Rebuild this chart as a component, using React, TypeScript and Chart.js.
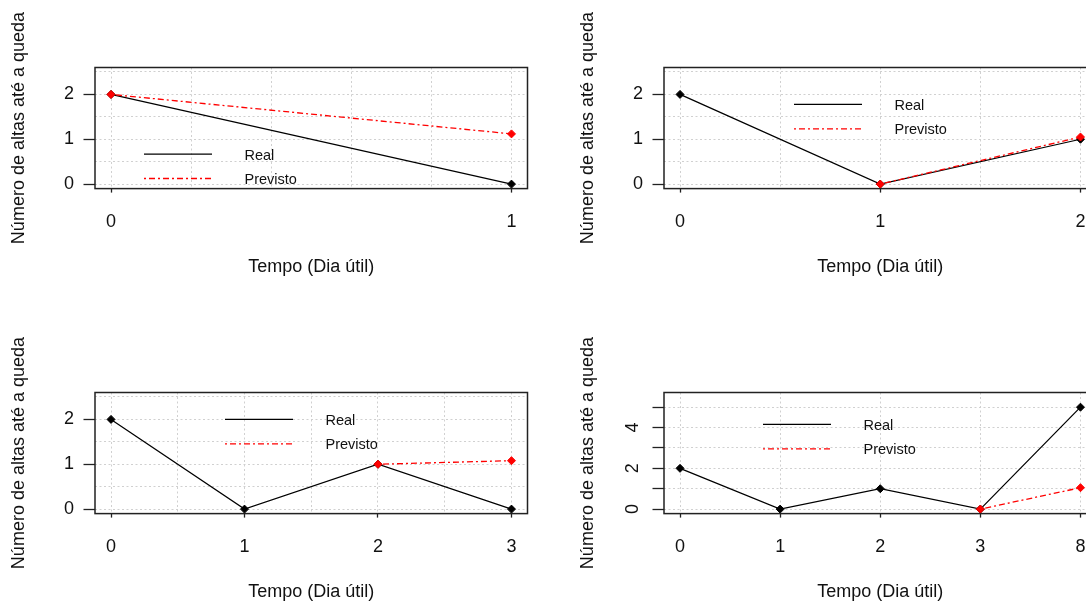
import React, { useEffect, useRef } from 'react';
import { Chart, registerables } from 'chart.js';

Chart.register(...registerables);

// ---------- text ----------
const yTitle = 'Número de altas até a queda';
const xTitle = 'Tempo (Dia útil)';
const seriesRealName = 'Real';
const seriesPrevName = 'Previsto';

// ---------- data ----------
const p1Labels = ['0', '1'];
const p1Real = [2, 0];
const p1Prev: (number | null)[] = [2, 1.12];

const p2Labels = ['0', '1', '2'];
const p2Real = [2, 0, 1];
const p2Prev: (number | null)[] = [null, 0, 1.05];

const p3Labels = ['0', '1', '2', '3'];
const p3Real = [2, 0, 1, 0];
const p3Prev: (number | null)[] = [null, null, 1, 1.08];

const p4Labels = ['0', '1', '2', '3', '8'];
const p4Real = [2, 0, 1, 0, 5];
const p4Prev: (number | null)[] = [null, null, null, 0, 1.05];

// ---------- grid / tick positions ----------
const p1XGrid = [0, 0.2, 0.4, 0.6, 0.8, 1];
const p2XGrid = [0, 0.5, 1, 1.5, 2];
const p3XGrid = [0, 0.5, 1, 1.5, 2, 2.5, 3];
const p4XGrid = [0, 1, 2, 3, 4];
const ySmallGrid = [0, 0.5, 1, 1.5, 2, 2.5];
const ySmallTickMarks = [0, 1, 2];
const ySmallLabels = [0, 1, 2];
const yLargeGrid = [0, 1, 2, 3, 4, 5];
const yLargeTickMarks = [0, 1, 2, 3, 4, 5];
const yLargeLabels = [0, 2, 4];

const FONT = '"Liberation Sans", Arial, sans-serif';
const TEXT = '#111111';
const GRID = '#d0d0d0';
const CLEAR = 'rgba(0,0,0,0)';

const CW = 569;
const CH = 300;
const AREA_LEFT = 95;
const AREA_RIGHT = 527.5;
const AREA_TOP = 67.5;
const AREA_BOTTOM = 188.6;

const boxPlugin = {
  id: 'rbox',
  beforeDatasetsDraw(chart: any) {
    const { ctx, chartArea: a } = chart;
    ctx.save();
    ctx.strokeStyle = '#222222';
    ctx.lineWidth = 1.5;
    ctx.strokeRect(a.left, a.top, a.right - a.left, a.bottom - a.top);
    ctx.restore();
  },
};

const legendPlugin = {
  id: 'rlegend',
  afterDraw(chart: any, _args: any, opts: any) {
    if (!opts || opts.dx == null) return;
    const { ctx, chartArea: a } = chart;
    const x0 = a.left + opts.dx;
    chart.data.datasets.forEach((ds: any, i: number) => {
      const y = a.top + opts.dy + i * opts.gap;
      ctx.save();
      ctx.strokeStyle = ds.borderColor;
      ctx.lineWidth = ds.borderWidth;
      ctx.setLineDash(ds.borderDash || []);
      ctx.beginPath();
      ctx.moveTo(x0, y);
      ctx.lineTo(x0 + opts.lineLen, y);
      ctx.stroke();
      ctx.setLineDash([]);
      ctx.fillStyle = TEXT;
      ctx.font = `14.5px ${FONT}`;
      ctx.textAlign = 'left';
      ctx.textBaseline = 'middle';
      ctx.fillText(ds.label, x0 + opts.textDx, y + 1.5);
      ctx.restore();
    });
  },
};

type PanelCfg = {
  left: number;
  top: number;
  labels: string[];
  real: number[];
  prev: (number | null)[];
  xMin: number;
  xMax: number;
  xGrid: number[];
  yMin: number;
  yMax: number;
  yGrid: number[];
  yTickMarks: number[];
  yLabels: number[];
  rotateY: boolean;
  legend: { dx: number; dy: number };
};

const panels: PanelCfg[] = [
  {
    left: 0, top: 0, labels: p1Labels, real: p1Real, prev: p1Prev,
    xMin: -0.04, xMax: 1.04, xGrid: p1XGrid,
    yMin: -0.1, yMax: 2.6, yGrid: ySmallGrid, yTickMarks: ySmallTickMarks, yLabels: ySmallLabels,
    rotateY: false, legend: { dx: 49, dy: 86.5 },
  },
  {
    left: 569, top: 0, labels: p2Labels, real: p2Real, prev: p2Prev,
    xMin: -0.08, xMax: 2.08, xGrid: p2XGrid,
    yMin: -0.1, yMax: 2.6, yGrid: ySmallGrid, yTickMarks: ySmallTickMarks, yLabels: ySmallLabels,
    rotateY: false, legend: { dx: 130, dy: 36.8 },
  },
  {
    left: 0, top: 325, labels: p3Labels, real: p3Real, prev: p3Prev,
    xMin: -0.12, xMax: 3.12, xGrid: p3XGrid,
    yMin: -0.1, yMax: 2.6, yGrid: ySmallGrid, yTickMarks: ySmallTickMarks, yLabels: ySmallLabels,
    rotateY: false, legend: { dx: 130, dy: 26.8 },
  },
  {
    left: 569, top: 325, labels: p4Labels, real: p4Real, prev: p4Prev,
    xMin: -0.16, xMax: 4.16, xGrid: p4XGrid,
    yMin: -0.22, yMax: 5.72, yGrid: yLargeGrid, yTickMarks: yLargeTickMarks, yLabels: yLargeLabels,
    rotateY: true, legend: { dx: 99, dy: 31.8 },
  },
];

function toPoints(values: (number | null)[]) {
  const pts: { x: number; y: number }[] = [];
  values.forEach((v, i) => {
    if (v !== null && v !== undefined) pts.push({ x: i, y: v });
  });
  return pts;
}

function Panel({ cfg }: { cfg: PanelCfg }) {
  const ref = useRef<HTMLCanvasElement | null>(null);
  useEffect(() => {
    if (!ref.current) return;
    const tickFont = { family: FONT, size: 18, lineHeight: 1.2 };
    const chart = new Chart(ref.current, {
      type: 'line',
      data: {
        datasets: [
          {
            label: seriesRealName,
            data: toPoints(cfg.real),
            borderColor: '#000000',
            backgroundColor: '#000000',
            borderWidth: 1.25,
            pointStyle: 'rectRot',
            pointRadius: 4,
            pointBorderWidth: 1,
            pointBackgroundColor: '#000000',
            pointBorderColor: '#000000',
            tension: 0,
            fill: false,
            order: 1,
          },
          {
            label: seriesPrevName,
            data: toPoints(cfg.prev),
            borderColor: '#ff0000',
            backgroundColor: '#ff0000',
            borderWidth: 1.3,
            borderDash: [2, 3, 6, 3],
            pointStyle: 'rectRot',
            pointRadius: 4,
            pointBorderWidth: 1,
            pointBackgroundColor: '#ff0000',
            pointBorderColor: '#ff0000',
            tension: 0,
            fill: false,
            order: 0,
          },
        ],
      },
      options: {
        responsive: false,
        animation: false,
        events: [],
        devicePixelRatio: 1,
        layout: {
          autoPadding: false,
          padding: { left: 0, top: AREA_TOP, right: CW - AREA_RIGHT, bottom: 0 },
        },
        plugins: {
          legend: { display: false },
          tooltip: { enabled: false },
          rlegend: { dx: cfg.legend.dx, dy: cfg.legend.dy, gap: 24.5, lineLen: 68, textDx: 100.5 },
        } as any,
        scales: {
          x: {
            type: 'linear',
            position: 'bottom',
            min: cfg.xMin,
            max: cfg.xMax,
            afterBuildTicks: (s: any) => {
              s.ticks = cfg.xGrid.map((v) => ({ value: v }));
            },
            afterFit: (s: any) => {
              s.height = CH - AREA_BOTTOM;
            },
            grid: {
              color: GRID,
              lineWidth: 1,
              drawTicks: true,
              tickLength: 4,
              tickWidth: 1.3,
              tickColor: (c: any) =>
                c.tick && Number.isInteger(c.tick.value) ? '#222222' : CLEAR,
            },
            border: { display: false, dash: [2, 2.5] },
            ticks: {
              autoSkip: false,
              minRotation: 0,
              maxRotation: 0,
              padding: 18.5,
              color: TEXT,
              font: tickFont,
              callback: (v: any) => (Number.isInteger(v) ? cfg.labels[v] : ''),
            },
            title: {
              display: true,
              text: xTitle,
              color: TEXT,
              font: tickFont,
              padding: { top: 0, bottom: 22.2 },
            },
          },
          y: {
            type: 'linear',
            position: 'left',
            min: cfg.yMin,
            max: cfg.yMax,
            afterBuildTicks: (s: any) => {
              s.ticks = cfg.yGrid.map((v) => ({ value: v }));
            },
            afterFit: (s: any) => {
              s.width = AREA_LEFT;
            },
            grid: {
              color: GRID,
              lineWidth: 1,
              drawTicks: true,
              tickLength: 11.5,
              tickWidth: 1.3,
              tickColor: (c: any) =>
                c.tick && cfg.yTickMarks.includes(c.tick.value) ? '#222222' : CLEAR,
            },
            border: { display: false, dash: [2, 2.5] },
            ticks: {
              autoSkip: false,
              padding: cfg.rotateY ? 14.2 : 9.5,
              crossAlign: cfg.rotateY ? 'center' : 'near',
              minRotation: cfg.rotateY ? 90 : 0,
              maxRotation: cfg.rotateY ? 90 : 0,
              color: TEXT,
              font: tickFont,
              callback: (v: any) => (cfg.yLabels.includes(v) ? String(v) : ''),
            },
            title: {
              display: true,
              text: yTitle,
              color: TEXT,
              font: tickFont,
              padding: { top: 8.2, bottom: 0 },
            },
          },
        },
      } as any,
      plugins: [boxPlugin, legendPlugin],
    });
    return () => chart.destroy();
  }, [cfg]);

  return (
    <canvas
      ref={ref}
      width={CW}
      height={CH}
      style={{ position: 'absolute', left: cfg.left, top: cfg.top, width: CW, height: CH }}
    />
  );
}

export default function App() {
  return (
    <div
      style={{
        position: 'absolute',
        left: 0,
        top: 0,
        width: 1086,
        height: 603,
        overflow: 'hidden',
        background: '#ffffff',
      }}
    >
      {panels.map((p, i) => (
        <Panel key={i} cfg={p} />
      ))}
    </div>
  );
}
